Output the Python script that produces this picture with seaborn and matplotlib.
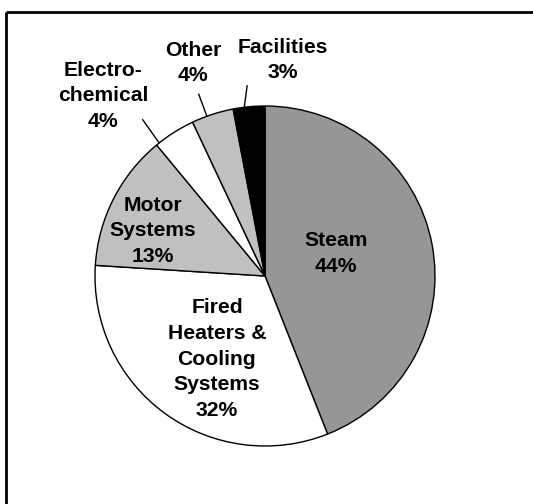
import numpy as np
import matplotlib
matplotlib.use('Agg')
import matplotlib.pyplot as plt
import seaborn as sns
from matplotlib.lines import Line2D

# Energy use by system (percent)
labels = ['Steam', 'Fired\nHeaters &\nCooling\nSystems', 'Motor\nSystems',
          'Electro-\nchemical', 'Other', 'Facilities']
shares = [44, 32, 13, 4, 4, 3]
slice_colors = ['#969696', '#ffffff', '#c0c0c0', '#ffffff', '#c0c0c0', '#000000']

sns.set_theme(style='white')
plt.rcParams['font.family'] = ['Liberation Sans', 'DejaVu Sans']

W, H = 533, 504
fig = plt.figure(figsize=(W / 100, H / 100), dpi=100, facecolor='white')
ax = fig.add_axes([0, 0, 1, 1])

wedges, _ = ax.pie(shares, colors=slice_colors, startangle=90, counterclock=False,
                   radius=1.0, wedgeprops=dict(edgecolor='black', linewidth=1.0))

# map axes so the pie sits where it does in the reference (centre 265,276 px; radius 170 px)
cx, cy, R = 265, 276, 170
ax.set_xlim(-cx / R, (W - cx) / R)
ax.set_ylim(-(H - cy) / R, cy / R)
ax.set_aspect('equal')
ax.axis('off')

# label placement: (radius, angle shift in degrees) relative to each wedge's mid-angle
inside = {0: (0.44, 7), 1: (0.565, 6), 2: (0.71, 5)}
outside = {3: ((-0.953, 1.06), (128.5, 1.0), (-0.72, 0.92)),
           4: ((-0.424, 1.253), (110, 1.0), (-0.39, 1.07)),
           5: ((0.106, 1.27), (97, 1.0), (-0.105, 1.12))}

fs = 15.2
ls = 1.45
for i, (w, lab, val) in enumerate(zip(wedges, labels, shares)):
    mid = np.deg2rad((w.theta1 + w.theta2) / 2)
    text = f'{lab}\n{val}%'
    if i in inside:
        r, shift = inside[i]
        a = mid + np.deg2rad(shift)
        ax.text(r * np.cos(a), r * np.sin(a), text, ha='center', va='center',
                fontsize=fs, fontweight='bold', linespacing=ls, color='black')
    else:
        (tx, ty), (ang, r0), (lx, ly) = outside[i]
        a = np.deg2rad(ang)
        ax.plot([r0 * np.cos(a), lx], [r0 * np.sin(a), ly], color='black', lw=1)
        ax.text(tx, ty, text, ha='center', va='center',
                fontsize=fs, fontweight='bold', linespacing=ls, color='black')

# frame lines along top and left like the source figure
fig.add_artist(Line2D([6 / W, 1], [1 - 12 / H, 1 - 12 / H], color='black', lw=2,
                      transform=fig.transFigure, solid_capstyle='butt'))
fig.add_artist(Line2D([6 / W, 6 / W], [0, 1 - 12 / H], color='black', lw=2,
                      transform=fig.transFigure, solid_capstyle='butt'))

fig.savefig('out.png', dpi=100, facecolor='white')
